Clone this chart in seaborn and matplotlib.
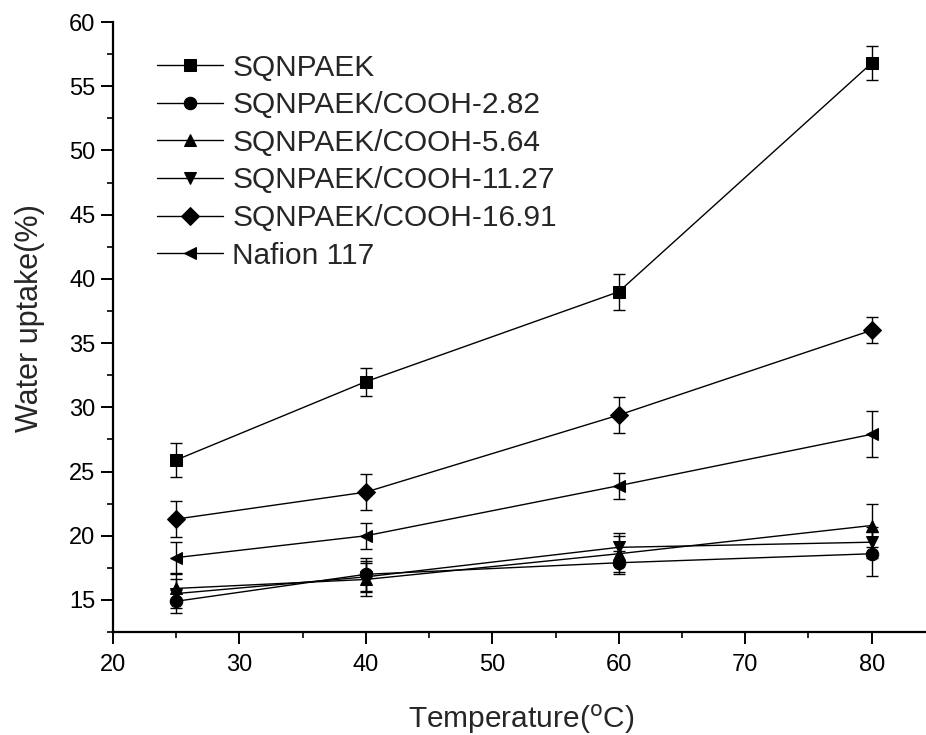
import matplotlib
matplotlib.use("Agg")
import matplotlib.pyplot as plt
from matplotlib.ticker import MultipleLocator
import seaborn as sns
import pandas as pd

temperature = [25, 40, 60, 80]
series_names = ["SQNPAEK", "SQNPAEK/COOH-2.82", "SQNPAEK/COOH-5.64",
                "SQNPAEK/COOH-11.27", "SQNPAEK/COOH-16.91", "Nafion 117"]
sqnpaek = [25.9, 32.0, 39.0, 56.8]
cooh_282 = [14.9, 17.0, 17.9, 18.6]
cooh_564 = [15.9, 16.6, 18.6, 20.8]
cooh_1127 = [15.5, 16.8, 19.1, 19.5]
cooh_1691 = [21.3, 23.4, 29.4, 36.0]
nafion = [18.3, 20.0, 23.9, 27.9]
err_sqnpaek = [1.3, 1.1, 1.4, 1.3]
err_282 = [0.9, 1.3, 0.9, 1.7]
err_564 = [1.1, 1.3, 1.4, 1.7]
err_1127 = [1.1, 1.2, 1.1, 1.2]
err_1691 = [1.4, 1.4, 1.4, 1.0]
err_nafion = [1.2, 1.0, 1.0, 1.8]

values = [sqnpaek, cooh_282, cooh_564, cooh_1127, cooh_1691, nafion]
errors = [err_sqnpaek, err_282, err_564, err_1127, err_1691, err_nafion]
markers = ["s", "o", "^", "v", "D", "<"]

rows = []
for name, vals, errs in zip(series_names, values, errors):
    for t, v, e in zip(temperature, vals, errs):
        rows.append({"Temperature": t, "Water uptake": v, "err": e, "Series": name})
df = pd.DataFrame(rows)

sns.set_style("ticks")
plt.rcParams["font.family"] = ["Liberation Sans", "DejaVu Sans"]

fig = plt.figure(figsize=(9.26, 7.35), dpi=100)
ax = fig.add_axes([0.122, 0.140, 0.878, 0.830])

for name, vals, errs in zip(series_names, values, errors):
    ax.errorbar(temperature, vals, yerr=errs, fmt="none", ecolor="black",
                elinewidth=1.0, capsize=4, capthick=1.0, zorder=2)

sns.lineplot(data=df, x="Temperature", y="Water uptake", hue="Series",
             style="Series", hue_order=series_names, style_order=series_names,
             palette=["black"] * 6, markers=markers, dashes=False,
             markersize=9, linewidth=1.0, markeredgecolor="black",
             errorbar=None, ax=ax, zorder=3)

ax.set_xlim(20, 84.3)
ax.set_ylim(12.5, 60)
ax.xaxis.set_major_locator(MultipleLocator(10))
ax.xaxis.set_minor_locator(MultipleLocator(5))
ax.set_yticks([15, 20, 25, 30, 35, 40, 45, 50, 55, 60])
ax.yaxis.set_minor_locator(MultipleLocator(2.5))
ax.tick_params(axis="both", which="major", direction="out", length=8.5,
               width=1.4, labelsize=17, colors="black")
ax.tick_params(axis="x", which="major", pad=7)
ax.tick_params(axis="y", which="major", pad=4)
ax.tick_params(axis="both", which="minor", direction="out", length=4.5,
               width=1.4)
for s in ["top", "right"]:
    ax.spines[s].set_visible(False)
for s in ["left", "bottom"]:
    ax.spines[s].set_linewidth(1.6)
    ax.spines[s].set_color("black")

ax.set_xlabel("Temperature($^{\\mathrm{o}}$C)", fontsize=21.5)
ax.set_ylabel("Water uptake(%)", fontsize=22)
ax.xaxis.set_label_coords(0.502, -0.114)
ax.yaxis.set_label_coords(-0.083, 0.515)

leg = ax.legend(loc="upper left", bbox_to_anchor=(0.054, 0.948), frameon=False,
                fontsize=21.5, handlelength=2.2, handletextpad=0.33,
                labelspacing=0.32, borderaxespad=0, borderpad=0)
for h in leg.legend_handles:
    h.set_markersize(9)

fig.savefig("out.png", dpi=100, facecolor="white")
